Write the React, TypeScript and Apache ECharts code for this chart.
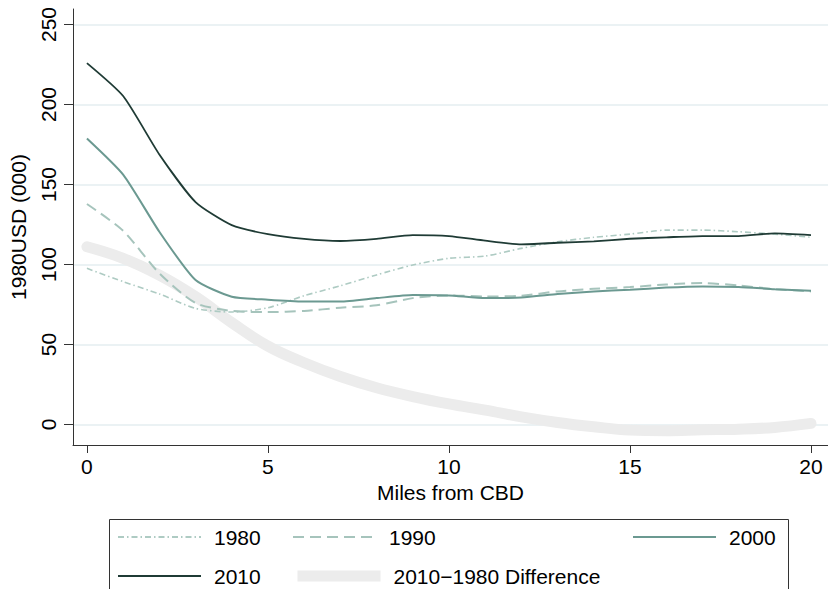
import React, { useEffect, useRef } from "react";
import * as echarts from "echarts";

const miles = [0, 1, 2, 3, 4, 5, 6, 7, 8, 9, 10, 11, 12, 13, 14, 15, 16, 17, 18, 19, 20];
const y1980 = [97.6, 89.3, 81.6, 72.6, 70.3, 73.0, 80.5, 86.7, 93.5, 99.7, 103.9, 105.3, 110.1, 114.2, 117.0, 119.0, 121.5, 121.5, 120.5, 119.0, 117.0];
const y1990 = [137.8, 121.1, 94.5, 76.0, 71.0, 70.3, 71.0, 73.0, 74.5, 79.0, 80.7, 80.0, 80.5, 83.2, 84.8, 85.9, 87.5, 88.4, 86.9, 84.6, 83.2];
const y2000 = [178.8, 156.2, 120.5, 90.3, 79.9, 78.0, 76.9, 76.9, 79.0, 80.9, 80.7, 79.0, 79.4, 81.5, 83.2, 84.2, 85.6, 86.3, 85.9, 84.6, 83.6];
const y2010 = [225.9, 205.3, 168.8, 139.0, 124.6, 119.0, 116.0, 114.7, 116.0, 118.4, 117.8, 114.9, 112.6, 113.6, 114.5, 116.1, 117.0, 117.8, 117.8, 119.5, 118.4];
const yDiff = [111.1, 103.9, 93.4, 79.9, 63.7, 49.0, 38.6, 30.0, 23.0, 17.5, 12.9, 9.0, 4.8, 1.3, -1.4, -3.5, -3.9, -3.3, -2.9, -1.8, 0.7];
const xTicks = [0, 5, 10, 15, 20];
const yTicks = [0, 50, 100, 150, 200, 250];
const seriesNames = ["1980", "1990", "2000", "2010", "2010\u22121980 Difference"];

const FONT = "'Liberation Sans', Arial, sans-serif";

export default function App() {
  const ref = useRef<HTMLDivElement>(null);
  useEffect(() => {
    if (!ref.current) return;
    const chart = echarts.init(ref.current, null, { renderer: "svg" });
    const pair = (ys: number[]) => miles.map((m, i) => [m, ys[i]]);
    const legendCommon = {
      orient: "horizontal",
      padding: 0,
      itemWidth: 83,
      itemHeight: 12,
      itemGap: 0,
      selectedMode: false,
      itemStyle: { opacity: 0, borderWidth: 0 },
      lineStyle: { cap: "butt" },
      textStyle: { fontSize: 21, fontFamily: FONT, color: "#000", padding: [0, 0, 0, 8], lineHeight: 24 },
    };
    chart.setOption({
      animation: false,
      backgroundColor: "#fff",
      grid: { left: 69, right: 0, top: 9, bottom: 144, containLabel: false },
      xAxis: {
        type: "value",
        min: -0.385,
        max: 20.47,
        name: "Miles from CBD",
        nameLocation: "middle",
        nameGap: 33,
        nameTextStyle: { fontSize: 21, fontFamily: FONT, color: "#000" },
        axisLine: { show: true, onZero: false, lineStyle: { color: "#333", width: 1 } },
        axisTick: { show: true, length: 8, inside: false, customValues: xTicks, lineStyle: { color: "#333" } },
        axisLabel: { customValues: xTicks, fontSize: 21, fontFamily: FONT, color: "#000", margin: 11 },
        splitLine: { show: false },
      },
      yAxis: {
        type: "value",
        min: -12.8,
        max: 259.7,
        name: "1980USD (000)",
        nameLocation: "middle",
        nameRotate: 90,
        nameGap: 44,
        nameTextStyle: { fontSize: 21, fontFamily: FONT, color: "#000" },
        axisLine: { show: true, onZero: false, lineStyle: { color: "#333", width: 1 } },
        axisTick: { show: true, length: 9, inside: false, customValues: yTicks, lineStyle: { color: "#333" } },
        axisLabel: { customValues: yTicks, rotate: 90, fontSize: 21, fontFamily: FONT, color: "#000", margin: 14 },
        splitLine: { show: true, lineStyle: { color: "#e4eef1", width: 1.5 } },
      },
      legend: [
        { ...legendCommon, data: [seriesNames[0]], left: 117, top: 525 },
        { ...legendCommon, data: [seriesNames[1]], left: 292, top: 525 },
        { ...legendCommon, data: [seriesNames[2]], left: 632, top: 525 },
        { ...legendCommon, data: [seriesNames[3]], left: 117, top: 564 },
        {
          ...legendCommon,
          data: [seriesNames[4]],
          left: 292,
          top: 564,
          lineStyle: { width: 11, cap: "butt", color: "#ececec" },
        },
      ],
      graphic: [
        {
          type: "rect",
          left: 107,
          top: 517,
          shape: { width: 679, height: 71 },
          style: { fill: "none", stroke: "#333", lineWidth: 1 },
          silent: true,
        },
      ],
      series: [
        {
          name: seriesNames[4],
          type: "line",
          data: pair(yDiff),
          symbol: "none",
          smooth: 0.4,
          lineStyle: { color: "#ececec", width: 11, cap: "round" },
          itemStyle: { color: "#ececec" },
          z: 1,
        },
        {
          name: seriesNames[0],
          type: "line",
          data: pair(y1980),
          symbol: "none",
          smooth: 0.25,
          lineStyle: { color: "#aecbc3", width: 1.6, type: [6, 3, 1.5, 3] },
          itemStyle: { color: "#aecbc3" },
          z: 2,
        },
        {
          name: seriesNames[1],
          type: "line",
          data: pair(y1990),
          symbol: "none",
          smooth: 0.25,
          lineStyle: { color: "#a6c4bc", width: 2, type: [11, 6] },
          itemStyle: { color: "#a6c4bc" },
          z: 3,
        },
        {
          name: seriesNames[2],
          type: "line",
          data: pair(y2000),
          symbol: "none",
          smooth: 0.2,
          lineStyle: { color: "#6b9991", width: 2 },
          itemStyle: { color: "#6b9991" },
          z: 4,
        },
        {
          name: seriesNames[3],
          type: "line",
          data: pair(y2010),
          symbol: "none",
          smooth: 0.2,
          lineStyle: { color: "#1f3b35", width: 1.8 },
          itemStyle: { color: "#1f3b35" },
          z: 5,
        },
      ],
    });
    return () => chart.dispose();
  }, []);
  return (
    <div
      ref={ref}
      style={{ position: "fixed", left: 0, top: 0, width: 828, height: 589 }}
    />
  );
}
